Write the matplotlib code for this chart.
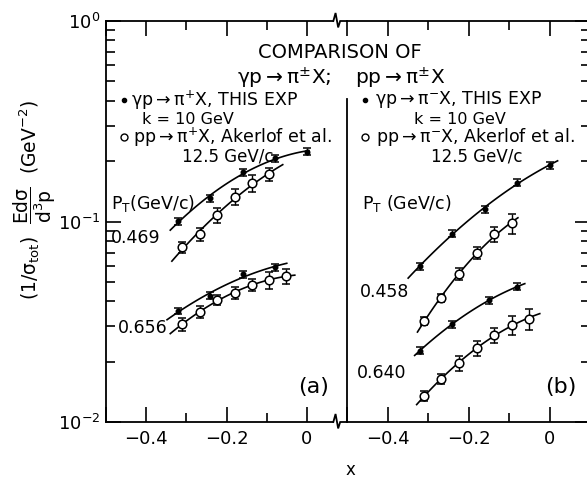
import numpy as np
import matplotlib.pyplot as plt
from matplotlib.ticker import FixedLocator, FixedFormatter, LogLocator, NullFormatter

plt.rcParams['font.family'] = ['DejaVu Sans']
plt.rcParams['mathtext.default'] = 'regular'

# gamma p -> pi X, this experiment (k = 10 GeV)
x_gp = [-0.32, -0.24, -0.16, -0.08, 0.0]
a_gp_469 = [0.1006, 0.1305, 0.176, 0.2066, 0.223]
a_gp_469_err = [0.004, 0.005, 0.007, 0.008, 0.009]
a_gp_656 = [0.0358, 0.0426, 0.0545, 0.059]
a_gp_656_err = [0.0014, 0.0017, 0.0022, 0.0024]
b_gp_458 = [0.060, 0.0871, 0.1154, 0.156, 0.1906]
b_gp_458_err = [0.0024, 0.0035, 0.0046, 0.0062, 0.0076]
x_gp_640 = [-0.32, -0.24, -0.15, -0.08]
b_gp_640 = [0.0227, 0.0308, 0.0404, 0.0473]
b_gp_640_err = [0.0009, 0.0012, 0.0016, 0.0019]

# pp -> pi X, Akerlof et al. (12.5 GeV/c)
x_pp = [-0.31, -0.267, -0.224, -0.179, -0.136, -0.093, -0.051]
a_pp_469 = [0.0743, 0.0863, 0.1077, 0.133, 0.155, 0.172]
a_pp_469_err = [0.0044, 0.0061, 0.0090, 0.0128, 0.0149, 0.0122]
a_pp_656 = [0.0307, 0.0355, 0.0406, 0.0441, 0.0482, 0.0511, 0.0535]
a_pp_656_err = [0.0022, 0.0025, 0.0024, 0.0031, 0.0034, 0.0049, 0.0045]
b_pp_458 = [0.0320, 0.0414, 0.0547, 0.0696, 0.0864, 0.098]
b_pp_458_err = [0.0015, 0.0019, 0.0039, 0.0049, 0.0073, 0.0113]
b_pp_640 = [0.01348, 0.01643, 0.01963, 0.0233, 0.0272, 0.0305, 0.0328]
b_pp_640_err = [0.0008, 0.0010, 0.0016, 0.0020, 0.0023, 0.0033, 0.0040]

# x range covered by each smooth curve
a_rng = [(-0.34, 0.005), (-0.336, -0.06), (-0.348, -0.05), (-0.34, -0.03)]
b_rng = [(-0.349, 0.02), (-0.326, -0.078), (-0.333, -0.061), (-0.328, -0.024)]

W, H = 587, 479
fig = plt.figure(figsize=(W / 100, H / 100), dpi=100)
axa = fig.add_axes([106 / W, 1 - 422 / H, 241 / W, 401 / H])
axb = fig.add_axes([347 / W, 1 - 422 / H, 243 / W, 401 / H])


def txt(px, py, s, **kw):
    kw.setdefault('fontsize', 13)
    kw.setdefault('va', 'center')
    fig.text(px / W, 1 - py / H, s, **kw)


def series(ax, x, y, err, rng, filled):
    x = np.array(x[:len(y)])
    y = np.array(y)
    ax.errorbar(x, y, yerr=err, fmt='o', ms=3.2 if filled else 6.2,
                mfc='black' if filled else 'white', mec='black', mew=1.1,
                ecolor='black', elinewidth=1.0, capsize=2.6, capthick=1.0, zorder=3)
    c = np.polyfit(x, np.log10(y), 2)
    xs = np.linspace(rng[0], rng[1], 100)
    ax.plot(xs, 10 ** np.polyval(c, xs), color='black', lw=1.2, zorder=2)


for ax in (axa, axb):
    ax.set_yscale('log')
    ax.set_ylim(0.01, 1)
    ax.set_xlim(-0.5, 0.1)
    for sp in ax.spines.values():
        sp.set_linewidth(1.3)
    ax.xaxis.set_major_locator(FixedLocator([-0.5, -0.4, -0.2, 0.0]))
    ax.xaxis.set_major_formatter(FixedFormatter(['', '\u22120.4', '\u22120.2', '0']))
    ax.xaxis.set_minor_locator(FixedLocator([-0.3, -0.1]))
    ax.tick_params(axis='x', which='both', direction='in', top=True, bottom=True,
                   labelsize=13, pad=6)
    ax.tick_params(which='major', length=11, width=1.2)
    ax.tick_params(which='minor', length=6.5, width=1.2)
    ax.yaxis.set_major_locator(LogLocator(base=10, numticks=5))
    ax.yaxis.set_minor_locator(LogLocator(base=10, subs=np.arange(2, 10), numticks=20))
    ax.yaxis.set_minor_formatter(NullFormatter())

axa.spines['right'].set_visible(False)
axa.tick_params(axis='y', which='both', direction='in', left=True, right=False,
                labelsize=13, pad=4)
axb.spines['left'].set_bounds(0.01, 0.41)
axb.tick_params(axis='y', which='both', direction='in', left=False, right=True,
                labelleft=False)

# broken x axis between the two panels
for side, y0 in (('top', 1.0), ('bottom', 0.0)):
    axa.spines[side].set_bounds(-0.5, 0.066)
    axa.plot([0.066, 0.0715, 0.078, 0.083, 0.1],
             [y0, y0 + 0.02, y0 - 0.016, y0, y0],
             transform=axa.get_xaxis_transform(), color='black', lw=1.3,
             clip_on=False, solid_joinstyle='miter')

series(axa, x_gp, a_gp_469, a_gp_469_err, a_rng[0], True)
series(axa, x_pp, a_pp_469, a_pp_469_err, a_rng[1], False)
series(axa, x_gp, a_gp_656, a_gp_656_err, a_rng[2], True)
series(axa, x_pp, a_pp_656, a_pp_656_err, a_rng[3], False)
series(axb, x_gp, b_gp_458, b_gp_458_err, b_rng[0], True)
series(axb, x_pp, b_pp_458, b_pp_458_err, b_rng[1], False)
series(axb, x_gp_640, b_gp_640, b_gp_640_err, b_rng[2], True)
series(axb, x_pp, b_pp_640, b_pp_640_err, b_rng[3], False)

# headings and legends
txt(340, 52, 'COMPARISON OF', ha='center', fontsize=14)
txt(341, 78, r'$\gamma p \rightarrow \pi^{\pm}X;\ \ \ pp \rightarrow \pi^{\pm}X$',
    ha='center', fontsize=14.5)
for x0 in (124, 365):
    fig.add_artist(plt.Line2D([x0 / W], [1 - 100 / H], marker='o', ms=3,
                              color='black', mfc='black', transform=fig.transFigure))
    fig.add_artist(plt.Line2D([x0 / W], [1 - 137 / H], marker='o', ms=5,
                              color='black', mfc='white', mew=1.0,
                              transform=fig.transFigure))
txt(131, 100, r'$\gamma p \rightarrow \pi^{+}X$, THIS EXP', ha='left', fontsize=12.5)
txt(188, 119, 'k = 10 GeV', ha='center', fontsize=11.5)
txt(133, 137, r'$pp \rightarrow \pi^{+}X$, Akerlof et al.', ha='left', fontsize=12.5)
txt(228, 156, '12.5 GeV/c', ha='center', fontsize=12)
txt(375, 100, r'$\gamma p \rightarrow \pi^{-}X$, THIS EXP', ha='left', fontsize=12.5)
txt(460, 119, 'k = 10 GeV', ha='center', fontsize=11.5)
txt(376, 137, r'$pp \rightarrow \pi^{-}X$, Akerlof et al.', ha='left', fontsize=12.5)
txt(477, 156, '12.5 GeV/c', ha='center', fontsize=12)

# transverse momentum labels
txt(111, 203, r'$P_T$(GeV/c)', ha='left', fontsize=12.5)
txt(362, 203, r'$P_T$ (GeV/c)', ha='left', fontsize=12.5)
txt(111, 238, '0.469', ha='left', fontsize=12.5)
txt(118, 328, '0.656', ha='left', fontsize=12.5)
txt(360, 292, '0.458', ha='left', fontsize=12.5)
txt(357, 373, '0.640', ha='left', fontsize=12.5)
txt(314, 387, '(a)', ha='center', fontsize=16)
txt(561, 387, '(b)', ha='center', fontsize=16)

# axis titles
txt(350, 470, 'x', ha='center', fontsize=12)
txt(35, 200, r'$(1/\sigma_{tot})\ \ \dfrac{Ed\sigma}{d^3p}\ \ (GeV^{-2})$',
    ha='center', rotation=90, fontsize=13.5)

fig.savefig('out.png', dpi=100)
